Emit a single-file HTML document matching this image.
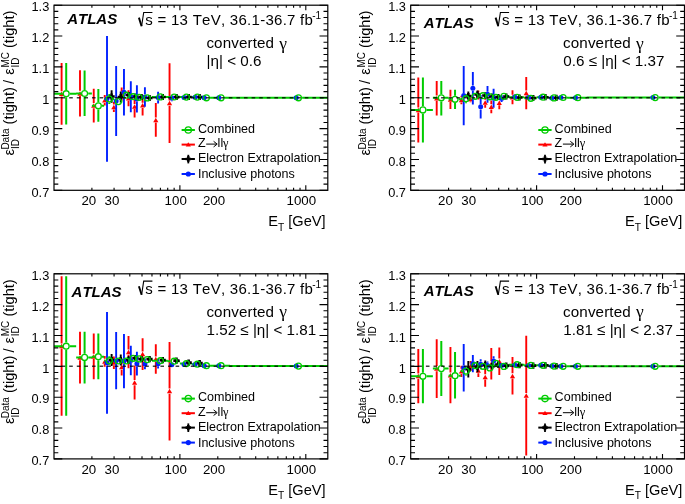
<!DOCTYPE html>
<html><head><meta charset="utf-8"><style>
html,body{margin:0;padding:0;background:#fff;overflow:hidden}
svg{display:block;will-change:transform;filter:blur(0.35px)}
text{font-family:"Liberation Sans",sans-serif;fill:#000;font-kerning:none}
</style></head><body>
<svg width="685" height="504" viewBox="0 0 685 504">
<rect width="685" height="504" fill="#fff"/>
<g transform="translate(0,0)">
<path d="M61.60,62.90V91.25 M61.60,96.45V124.80 M80.00,70.30V90.85 M80.00,96.05V116.60 M93.74,88.70V103.00 M93.74,108.20V122.50 M104.71,95.10V97.70 M104.71,102.90V105.50 M113.85,102.10V104.40 M113.85,109.60V111.90 M121.67,87.60V91.60 M121.67,96.80V100.80 M128.51,90.20V95.65 M128.51,100.85V106.30 M134.60,95.50V103.90 M134.60,109.10V117.40 M142.61,95.20V102.70 M142.61,107.90V115.40 M155.80,103.10V117.40 M155.80,122.60V136.80 M169.54,63.30V100.50 M169.54,105.70V142.90" stroke="#ff0000" stroke-width="1.9" fill="none"/>
<path d="M59.00,96.10L61.60,91.60L64.20,96.10Z" fill="#ff0000"/>
<path d="M77.40,95.70L80.00,91.20L82.60,95.70Z" fill="#ff0000"/>
<path d="M91.14,107.85L93.74,103.35L96.34,107.85Z" fill="#ff0000"/>
<path d="M102.11,102.55L104.71,98.05L107.31,102.55Z" fill="#ff0000"/>
<path d="M111.25,109.25L113.85,104.75L116.45,109.25Z" fill="#ff0000"/>
<path d="M119.07,96.45L121.67,91.95L124.27,96.45Z" fill="#ff0000"/>
<path d="M125.91,100.50L128.51,96.00L131.11,100.50Z" fill="#ff0000"/>
<path d="M132.00,108.75L134.60,104.25L137.20,108.75Z" fill="#ff0000"/>
<path d="M140.01,107.55L142.61,103.05L145.21,107.55Z" fill="#ff0000"/>
<path d="M153.20,122.25L155.80,117.75L158.40,122.25Z" fill="#ff0000"/>
<path d="M166.94,105.35L169.54,100.85L172.14,105.35Z" fill="#ff0000"/>
<path d="M54.00,93.70H62.60 M69.80,93.70H76.17 M66.20,62.90V90.10 M66.20,97.30V124.50 M76.17,93.50H81.00 M88.20,93.50H91.90 M84.60,70.60V89.90 M84.60,97.10V116.10 M91.90,105.80H94.74 M101.94,105.80H104.10 M98.34,88.90V102.20 M98.34,109.40V121.70 M104.10,99.00H105.71 M112.91,99.00H114.07 M109.31,94.00V95.40 M109.31,102.60V104.00 M114.07,101.60H114.85 M122.05,101.60H122.50 M122.50,95.20H122.67 M142.00,97.90H143.61 M150.81,97.90H151.97 M151.97,96.90H156.80 M164.00,96.90H167.70 M167.70,97.00H170.54 M177.74,97.00H179.90 M179.90,97.10H182.74 M189.94,97.10H192.10 M192.10,97.10H193.71 M200.91,97.10H202.07 M202.07,97.80H202.85 M210.05,97.80H210.50 M210.50,97.80H217.51 M224.71,97.80H230.00 M230.00,97.80H294.90 M302.10,97.80H327.97" stroke="#00cc00" stroke-width="2" fill="none"/>
<path d="M111.61,90.30V94.30 M111.61,98.70V102.80 M120.75,91.40V94.80 M120.75,99.20V102.50 M128.57,92.00V92.80 M128.57,97.20V98.00 M135.41,94.00V94.30 M135.41,98.70V99.00" stroke="#000000" stroke-width="1.9" fill="none"/>
<path d="M110.31,93.40h2.6v1.8h1.8v2.6h-1.8v1.8h-2.6v-1.8h-1.8v-2.6h1.8z" fill="#000"/>
<path d="M119.45,93.90h2.6v1.8h1.8v2.6h-1.8v1.8h-2.6v-1.8h-1.8v-2.6h1.8z" fill="#000"/>
<path d="M127.27,91.90h2.6v1.8h1.8v2.6h-1.8v1.8h-2.6v-1.8h-1.8v-2.6h1.8z" fill="#000"/>
<path d="M134.11,93.40h2.6v1.8h1.8v2.6h-1.8v1.8h-2.6v-1.8h-1.8v-2.6h1.8z" fill="#000"/>
<path d="M140.20,93.90h2.6v1.8h1.8v2.6h-1.8v1.8h-2.6v-1.8h-1.8v-2.6h1.8z" fill="#000"/>
<path d="M148.21,94.90h2.6v1.8h1.8v2.6h-1.8v1.8h-2.6v-1.8h-1.8v-2.6h1.8z" fill="#000"/>
<path d="M161.40,93.90h2.6v1.8h1.8v2.6h-1.8v1.8h-2.6v-1.8h-1.8v-2.6h1.8z" fill="#000"/>
<path d="M175.14,93.90h2.6v1.8h1.8v2.6h-1.8v1.8h-2.6v-1.8h-1.8v-2.6h1.8z" fill="#000"/>
<path d="M187.34,93.90h2.6v1.8h1.8v2.6h-1.8v1.8h-2.6v-1.8h-1.8v-2.6h1.8z" fill="#000"/>
<path d="M198.31,93.90h2.6v1.8h1.8v2.6h-1.8v1.8h-2.6v-1.8h-1.8v-2.6h1.8z" fill="#000"/>
<path d="M107.01,35.90V96.20 M107.01,101.40V161.70 M116.15,65.90V98.30 M116.15,103.50V135.90 M123.97,69.10V89.65 M123.97,94.85V115.40 M130.81,81.30V94.15 M130.81,99.35V112.20 M136.90,85.20V96.30 M136.90,101.50V112.60 M144.91,87.20V94.35 M144.91,99.55V106.70 M158.10,91.70V95.00 M158.10,100.20V103.50 M171.84,94.80V95.40 M171.84,100.60V101.30" stroke="#0020ff" stroke-width="1.9" fill="none"/>
<circle cx="107.01" cy="98.80" r="2.5" fill="#0020ff"/>
<circle cx="116.15" cy="100.90" r="2.5" fill="#0020ff"/>
<circle cx="123.97" cy="92.25" r="2.5" fill="#0020ff"/>
<circle cx="130.81" cy="96.75" r="2.5" fill="#0020ff"/>
<circle cx="136.90" cy="98.90" r="2.5" fill="#0020ff"/>
<circle cx="144.91" cy="96.95" r="2.5" fill="#0020ff"/>
<circle cx="158.10" cy="97.60" r="2.5" fill="#0020ff"/>
<circle cx="171.84" cy="98.00" r="2.5" fill="#0020ff"/>
<circle cx="184.04" cy="97.50" r="2.5" fill="#0020ff"/>
<circle cx="195.01" cy="97.30" r="2.5" fill="#0020ff"/>
<circle cx="204.15" cy="97.80" r="2.5" fill="#0020ff"/>
<circle cx="218.81" cy="97.80" r="2.5" fill="#0020ff"/>
<circle cx="296.20" cy="97.80" r="2.5" fill="#0020ff"/>
<circle cx="66.20" cy="93.70" r="2.95" fill="none" stroke="#00cc00" stroke-width="1.3"/>
<circle cx="84.60" cy="93.50" r="2.95" fill="none" stroke="#00cc00" stroke-width="1.3"/>
<circle cx="98.34" cy="105.80" r="2.95" fill="none" stroke="#00cc00" stroke-width="1.3"/>
<circle cx="109.31" cy="99.00" r="2.95" fill="none" stroke="#00cc00" stroke-width="1.3"/>
<circle cx="118.45" cy="101.60" r="2.95" fill="none" stroke="#00cc00" stroke-width="1.3"/>
<circle cx="126.27" cy="95.20" r="2.95" fill="none" stroke="#00cc00" stroke-width="1.3"/>
<circle cx="133.11" cy="96.70" r="2.95" fill="none" stroke="#00cc00" stroke-width="1.3"/>
<circle cx="139.20" cy="97.30" r="2.95" fill="none" stroke="#00cc00" stroke-width="1.3"/>
<circle cx="147.21" cy="97.90" r="2.95" fill="none" stroke="#00cc00" stroke-width="1.3"/>
<circle cx="160.40" cy="96.90" r="2.95" fill="none" stroke="#00cc00" stroke-width="1.3"/>
<circle cx="174.14" cy="97.00" r="2.95" fill="none" stroke="#00cc00" stroke-width="1.3"/>
<circle cx="186.34" cy="97.10" r="2.95" fill="none" stroke="#00cc00" stroke-width="1.3"/>
<circle cx="197.31" cy="97.10" r="2.95" fill="none" stroke="#00cc00" stroke-width="1.3"/>
<circle cx="206.45" cy="97.80" r="2.95" fill="none" stroke="#00cc00" stroke-width="1.3"/>
<circle cx="221.11" cy="97.80" r="2.95" fill="none" stroke="#00cc00" stroke-width="1.3"/>
<circle cx="298.50" cy="97.80" r="2.95" fill="none" stroke="#00cc00" stroke-width="1.3"/>
<path d="M54.00,97.75H327.80" stroke="#000" stroke-opacity="0.75" stroke-width="1.5" stroke-dasharray="3.6,4"/>
<path d="M54.00,190.30h8.3 M327.80,190.30h-8.3 M54.00,184.13h4.3 M327.80,184.13h-4.3 M54.00,177.96h4.3 M327.80,177.96h-4.3 M54.00,171.79h4.3 M327.80,171.79h-4.3 M54.00,165.62h4.3 M327.80,165.62h-4.3 M54.00,159.45h8.3 M327.80,159.45h-8.3 M54.00,153.28h4.3 M327.80,153.28h-4.3 M54.00,147.11h4.3 M327.80,147.11h-4.3 M54.00,140.94h4.3 M327.80,140.94h-4.3 M54.00,134.77h4.3 M327.80,134.77h-4.3 M54.00,128.60h8.3 M327.80,128.60h-8.3 M54.00,122.43h4.3 M327.80,122.43h-4.3 M54.00,116.26h4.3 M327.80,116.26h-4.3 M54.00,110.09h4.3 M327.80,110.09h-4.3 M54.00,103.92h4.3 M327.80,103.92h-4.3 M54.00,97.75h8.3 M327.80,97.75h-8.3 M54.00,91.58h4.3 M327.80,91.58h-4.3 M54.00,85.41h4.3 M327.80,85.41h-4.3 M54.00,79.24h4.3 M327.80,79.24h-4.3 M54.00,73.07h4.3 M327.80,73.07h-4.3 M54.00,66.90h8.3 M327.80,66.90h-8.3 M54.00,60.73h4.3 M327.80,60.73h-4.3 M54.00,54.56h4.3 M327.80,54.56h-4.3 M54.00,48.39h4.3 M327.80,48.39h-4.3 M54.00,42.22h4.3 M327.80,42.22h-4.3 M54.00,36.05h8.3 M327.80,36.05h-8.3 M54.00,29.88h4.3 M327.80,29.88h-4.3 M54.00,23.71h4.3 M327.80,23.71h-4.3 M54.00,17.54h4.3 M327.80,17.54h-4.3 M54.00,11.37h4.3 M327.80,11.37h-4.3 M54.00,5.20h8.3 M327.80,5.20h-8.3 M91.90,190.30v-2.6 M91.90,5.20v2.6 M114.07,190.30v-2.6 M114.07,5.20v2.6 M129.80,190.30v-2.6 M129.80,5.20v2.6 M142.00,190.30v-2.6 M142.00,5.20v2.6 M151.97,190.30v-2.6 M151.97,5.20v2.6 M160.40,190.30v-2.6 M160.40,5.20v2.6 M167.70,190.30v-2.6 M167.70,5.20v2.6 M174.14,190.30v-2.6 M174.14,5.20v2.6 M179.90,190.30v-5 M179.90,5.20v5 M217.80,190.30v-2.6 M217.80,5.20v2.6 M239.97,190.30v-2.6 M239.97,5.20v2.6 M255.70,190.30v-2.6 M255.70,5.20v2.6 M267.90,190.30v-2.6 M267.90,5.20v2.6 M277.87,190.30v-2.6 M277.87,5.20v2.6 M286.30,190.30v-2.6 M286.30,5.20v2.6 M293.60,190.30v-2.6 M293.60,5.20v2.6 M300.04,190.30v-2.6 M300.04,5.20v2.6 M305.80,190.30v-5 M305.80,5.20v5" stroke="#000" stroke-width="1.1" fill="none"/>
<rect x="54.0" y="5.2" width="273.80" height="185.10" stroke="#000" stroke-width="1.2" fill="none"/>
<text x="49.3" y="196.50" text-anchor="end" font-size="12.8">0.7</text>
<text x="49.3" y="165.65" text-anchor="end" font-size="12.8">0.8</text>
<text x="49.3" y="134.80" text-anchor="end" font-size="12.8">0.9</text>
<text x="49.3" y="103.95" text-anchor="end" font-size="12.8">1</text>
<text x="49.3" y="73.10" text-anchor="end" font-size="12.8">1.1</text>
<text x="49.3" y="42.25" text-anchor="end" font-size="12.8">1.2</text>
<text x="49.3" y="11.40" text-anchor="end" font-size="12.8">1.3</text>
<text x="88.8" y="205" text-anchor="middle" font-size="13.3">20</text>
<text x="112" y="205" text-anchor="middle" font-size="13.3">30</text>
<text x="175.7" y="205" text-anchor="middle" font-size="13.3">100</text>
<text x="214" y="205" text-anchor="middle" font-size="13.3">200</text>
<text x="301.3" y="205" text-anchor="middle" font-size="13.3">1000</text>
<text x="268.3" y="226.4" font-size="14.6">E<tspan font-size="10.2" dy="4.3">T</tspan><tspan dy="-4.3"> [GeV]</tspan></text>
<g transform="translate(13.6,160) rotate(-90)"><text x="4.6" y="0" font-size="14.8">ε</text><text x="10.4" y="-4.7" font-size="10">Data</text><text x="11.0" y="5.2" font-size="10">ID</text><text x="35.6" y="0" font-size="14.6">(tight)</text><text x="76.0" y="0" font-size="14.6">/</text><text x="85.2" y="0" font-size="14.8">ε</text><text x="92.4" y="-5.0" font-size="10">MC</text><text x="92.4" y="5.2" font-size="10">ID</text><text x="112.0" y="0" font-size="14.6">(tight)</text></g>
<text x="67.2" y="24.2" font-size="15" font-weight="bold" font-style="italic">ATLAS</text>
<path d="M138.9,17.6 L141.6,26.2" stroke="#000" stroke-width="1.9" fill="none"/>
<path d="M141.6,26.2 L143.7,12.5 L152.4,12.5" stroke="#000" stroke-width="1.1" fill="none"/>
<text x="145.3" y="25.4" font-size="15" textLength="167.6" lengthAdjust="spacing">s = 13 TeV, 36.1-36.7 fb</text>
<text x="312.2" y="19.3" font-size="10">-1</text>
<text x="206.4" y="48.3" font-size="15.2" textLength="67.6" lengthAdjust="spacing">converted</text>
<text x="279.2" y="48.6" font-size="17.5" style="font-family:'Liberation Serif',serif">γ</text>
<text x="206.6" y="66.0" font-size="15.2">|η| &lt; 0.6</text>
<path d="M181.6,130.0H194.9" stroke="#00cc00" stroke-width="2"/>
<text x="197.9" y="132.9" font-size="12.55">Combined</text>
<path d="M181.6,144.6H194.9" stroke="#ff0000" stroke-width="2"/>
<path d="M181.6,159.0H194.9" stroke="#000000" stroke-width="2"/>
<text x="197.9" y="162.0" font-size="12.55">Electron Extrapolation</text>
<path d="M181.6,174.0H194.9" stroke="#0020ff" stroke-width="2"/>
<text x="197.9" y="178.0" font-size="12.55">Inclusive photons</text>
<text x="197.9" y="147.3" font-size="12.55">Z</text>
<path d="M206.2,144.1H216.2" stroke="#000" stroke-width="1"/>
<path d="M213.6,141.3 L217.2,144.1 L213.6,146.9" stroke="#000" stroke-width="1" fill="none"/>
<text x="217.6" y="147.3" font-size="12.55">ll</text>
<text x="223.0" y="147.2" font-size="12.4" font-family="Liberation Serif" style="font-family:'Liberation Serif',serif">γ</text>
<circle cx="188.3" cy="130" r="3.15" fill="none" stroke="#00cc00" stroke-width="1.3"/>
<path d="M185.70000000000002,146.4 L188.3,142.2 L190.9,146.4Z" fill="#ff0000"/>
<path d="M188.3,154.8V163.4" stroke="#000" stroke-width="1.8"/>
<path d="M187.0,156.3h2.6v1.4h1.4v2.6h-1.4v1.4h-2.6v-1.4h-1.4v-2.6h1.4z" fill="#000"/>
<circle cx="188.3" cy="174" r="2.6" fill="#0020ff"/>
</g>
<g transform="translate(356.7,0)">
<path d="M61.60,77.40V107.40 M61.60,112.60V142.60 M80.00,80.90V95.60 M80.00,100.80V115.40 M93.74,89.80V96.80 M93.74,102.00V109.00 M104.71,95.70V97.40 M104.71,102.60V104.30 M113.85,95.70V96.40 M113.85,101.60V102.30 M121.67,90.40V92.40 M121.67,97.60V99.60 M128.51,97.00V99.80 M128.51,105.00V107.70 M134.60,100.40V104.20 M134.60,109.40V113.20 M142.61,96.20V100.10 M142.61,105.30V109.20 M155.80,90.30V94.70 M155.80,99.90V104.20 M169.54,76.90V90.45 M169.54,95.65V109.20" stroke="#ff0000" stroke-width="1.9" fill="none"/>
<path d="M59.00,112.25L61.60,107.75L64.20,112.25Z" fill="#ff0000"/>
<path d="M77.40,100.45L80.00,95.95L82.60,100.45Z" fill="#ff0000"/>
<path d="M91.14,101.65L93.74,97.15L96.34,101.65Z" fill="#ff0000"/>
<path d="M102.11,102.25L104.71,97.75L107.31,102.25Z" fill="#ff0000"/>
<path d="M111.25,101.25L113.85,96.75L116.45,101.25Z" fill="#ff0000"/>
<path d="M119.07,97.25L121.67,92.75L124.27,97.25Z" fill="#ff0000"/>
<path d="M125.91,104.65L128.51,100.15L131.11,104.65Z" fill="#ff0000"/>
<path d="M132.00,109.05L134.60,104.55L137.20,109.05Z" fill="#ff0000"/>
<path d="M140.01,104.95L142.61,100.45L145.21,104.95Z" fill="#ff0000"/>
<path d="M153.20,99.55L155.80,95.05L158.40,99.55Z" fill="#ff0000"/>
<path d="M166.94,95.30L169.54,90.80L172.14,95.30Z" fill="#ff0000"/>
<path d="M54.00,109.90H62.60 M69.80,109.90H76.17 M66.20,77.40V106.30 M66.20,113.50V142.60 M76.17,97.80H81.00 M88.20,97.80H91.90 M84.60,80.90V94.20 M84.60,101.40V115.40 M91.90,99.30H94.74 M101.94,99.30H104.10 M98.34,89.80V95.70 M98.34,102.90V109.00 M104.10,98.70H105.71 M112.91,98.70H114.07 M109.31,94.20V95.10 M109.31,102.30V103.20 M114.07,96.30H114.85 M122.05,96.30H122.50 M122.50,95.70H122.67 M142.00,96.30H143.61 M150.81,96.30H151.97 M151.97,97.30H156.80 M164.00,97.30H167.70 M167.70,98.30H170.54 M177.74,98.30H179.90 M179.90,97.20H182.74 M189.94,97.20H192.10 M192.10,97.90H193.71 M200.91,97.90H202.07 M202.07,97.50H202.85 M210.05,97.50H210.50 M210.50,97.70H217.51 M224.71,97.70H230.00 M230.00,97.60H294.90 M302.10,97.60H327.97" stroke="#00cc00" stroke-width="2" fill="none"/>
<path d="M111.61,91.50V93.80 M111.61,98.20V100.50 M120.75,90.50V92.30 M120.75,96.70V98.50 M128.57,92.50V93.30 M128.57,97.70V98.50 M135.41,94.00V94.30 M135.41,98.70V99.00" stroke="#000000" stroke-width="1.9" fill="none"/>
<path d="M110.31,92.90h2.6v1.8h1.8v2.6h-1.8v1.8h-2.6v-1.8h-1.8v-2.6h1.8z" fill="#000"/>
<path d="M119.45,91.40h2.6v1.8h1.8v2.6h-1.8v1.8h-2.6v-1.8h-1.8v-2.6h1.8z" fill="#000"/>
<path d="M127.27,92.40h2.6v1.8h1.8v2.6h-1.8v1.8h-2.6v-1.8h-1.8v-2.6h1.8z" fill="#000"/>
<path d="M134.11,93.40h2.6v1.8h1.8v2.6h-1.8v1.8h-2.6v-1.8h-1.8v-2.6h1.8z" fill="#000"/>
<path d="M140.20,93.90h2.6v1.8h1.8v2.6h-1.8v1.8h-2.6v-1.8h-1.8v-2.6h1.8z" fill="#000"/>
<path d="M148.21,93.40h2.6v1.8h1.8v2.6h-1.8v1.8h-2.6v-1.8h-1.8v-2.6h1.8z" fill="#000"/>
<path d="M161.40,94.40h2.6v1.8h1.8v2.6h-1.8v1.8h-2.6v-1.8h-1.8v-2.6h1.8z" fill="#000"/>
<path d="M175.14,94.90h2.6v1.8h1.8v2.6h-1.8v1.8h-2.6v-1.8h-1.8v-2.6h1.8z" fill="#000"/>
<path d="M187.34,94.10h2.6v1.8h1.8v2.6h-1.8v1.8h-2.6v-1.8h-1.8v-2.6h1.8z" fill="#000"/>
<path d="M198.31,94.80h2.6v1.8h1.8v2.6h-1.8v1.8h-2.6v-1.8h-1.8v-2.6h1.8z" fill="#000"/>
<path d="M107.01,66.00V93.00 M107.01,98.20V125.20 M116.15,71.90V85.60 M116.15,90.80V104.60 M123.97,95.10V104.20 M123.97,109.40V118.50 M130.81,85.90V91.70 M130.81,96.90V102.70 M136.90,88.80V95.60 M136.90,100.80V107.70 M144.91,95.00V95.90 M144.91,101.10V102.00 M158.10,94.00V94.40 M158.10,99.60V100.00" stroke="#0020ff" stroke-width="1.9" fill="none"/>
<circle cx="107.01" cy="95.60" r="2.5" fill="#0020ff"/>
<circle cx="116.15" cy="88.20" r="2.5" fill="#0020ff"/>
<circle cx="123.97" cy="106.80" r="2.5" fill="#0020ff"/>
<circle cx="130.81" cy="94.30" r="2.5" fill="#0020ff"/>
<circle cx="136.90" cy="98.20" r="2.5" fill="#0020ff"/>
<circle cx="144.91" cy="98.50" r="2.5" fill="#0020ff"/>
<circle cx="158.10" cy="97.00" r="2.5" fill="#0020ff"/>
<circle cx="171.84" cy="97.50" r="2.5" fill="#0020ff"/>
<circle cx="184.04" cy="97.20" r="2.5" fill="#0020ff"/>
<circle cx="195.01" cy="97.90" r="2.5" fill="#0020ff"/>
<circle cx="204.15" cy="97.50" r="2.5" fill="#0020ff"/>
<circle cx="218.81" cy="97.70" r="2.5" fill="#0020ff"/>
<circle cx="296.20" cy="97.60" r="2.5" fill="#0020ff"/>
<circle cx="66.20" cy="109.90" r="2.95" fill="none" stroke="#00cc00" stroke-width="1.3"/>
<circle cx="84.60" cy="97.80" r="2.95" fill="none" stroke="#00cc00" stroke-width="1.3"/>
<circle cx="98.34" cy="99.30" r="2.95" fill="none" stroke="#00cc00" stroke-width="1.3"/>
<circle cx="109.31" cy="98.70" r="2.95" fill="none" stroke="#00cc00" stroke-width="1.3"/>
<circle cx="118.45" cy="96.30" r="2.95" fill="none" stroke="#00cc00" stroke-width="1.3"/>
<circle cx="126.27" cy="95.70" r="2.95" fill="none" stroke="#00cc00" stroke-width="1.3"/>
<circle cx="133.11" cy="96.80" r="2.95" fill="none" stroke="#00cc00" stroke-width="1.3"/>
<circle cx="139.20" cy="97.30" r="2.95" fill="none" stroke="#00cc00" stroke-width="1.3"/>
<circle cx="147.21" cy="96.30" r="2.95" fill="none" stroke="#00cc00" stroke-width="1.3"/>
<circle cx="160.40" cy="97.30" r="2.95" fill="none" stroke="#00cc00" stroke-width="1.3"/>
<circle cx="174.14" cy="98.30" r="2.95" fill="none" stroke="#00cc00" stroke-width="1.3"/>
<circle cx="186.34" cy="97.20" r="2.95" fill="none" stroke="#00cc00" stroke-width="1.3"/>
<circle cx="197.31" cy="97.90" r="2.95" fill="none" stroke="#00cc00" stroke-width="1.3"/>
<circle cx="206.45" cy="97.50" r="2.95" fill="none" stroke="#00cc00" stroke-width="1.3"/>
<circle cx="221.11" cy="97.70" r="2.95" fill="none" stroke="#00cc00" stroke-width="1.3"/>
<circle cx="298.50" cy="97.60" r="2.95" fill="none" stroke="#00cc00" stroke-width="1.3"/>
<path d="M54.00,97.75H327.80" stroke="#000" stroke-opacity="0.75" stroke-width="1.5" stroke-dasharray="3.6,4"/>
<path d="M54.00,190.30h8.3 M327.80,190.30h-8.3 M54.00,184.13h4.3 M327.80,184.13h-4.3 M54.00,177.96h4.3 M327.80,177.96h-4.3 M54.00,171.79h4.3 M327.80,171.79h-4.3 M54.00,165.62h4.3 M327.80,165.62h-4.3 M54.00,159.45h8.3 M327.80,159.45h-8.3 M54.00,153.28h4.3 M327.80,153.28h-4.3 M54.00,147.11h4.3 M327.80,147.11h-4.3 M54.00,140.94h4.3 M327.80,140.94h-4.3 M54.00,134.77h4.3 M327.80,134.77h-4.3 M54.00,128.60h8.3 M327.80,128.60h-8.3 M54.00,122.43h4.3 M327.80,122.43h-4.3 M54.00,116.26h4.3 M327.80,116.26h-4.3 M54.00,110.09h4.3 M327.80,110.09h-4.3 M54.00,103.92h4.3 M327.80,103.92h-4.3 M54.00,97.75h8.3 M327.80,97.75h-8.3 M54.00,91.58h4.3 M327.80,91.58h-4.3 M54.00,85.41h4.3 M327.80,85.41h-4.3 M54.00,79.24h4.3 M327.80,79.24h-4.3 M54.00,73.07h4.3 M327.80,73.07h-4.3 M54.00,66.90h8.3 M327.80,66.90h-8.3 M54.00,60.73h4.3 M327.80,60.73h-4.3 M54.00,54.56h4.3 M327.80,54.56h-4.3 M54.00,48.39h4.3 M327.80,48.39h-4.3 M54.00,42.22h4.3 M327.80,42.22h-4.3 M54.00,36.05h8.3 M327.80,36.05h-8.3 M54.00,29.88h4.3 M327.80,29.88h-4.3 M54.00,23.71h4.3 M327.80,23.71h-4.3 M54.00,17.54h4.3 M327.80,17.54h-4.3 M54.00,11.37h4.3 M327.80,11.37h-4.3 M54.00,5.20h8.3 M327.80,5.20h-8.3 M91.90,190.30v-2.6 M91.90,5.20v2.6 M114.07,190.30v-2.6 M114.07,5.20v2.6 M129.80,190.30v-2.6 M129.80,5.20v2.6 M142.00,190.30v-2.6 M142.00,5.20v2.6 M151.97,190.30v-2.6 M151.97,5.20v2.6 M160.40,190.30v-2.6 M160.40,5.20v2.6 M167.70,190.30v-2.6 M167.70,5.20v2.6 M174.14,190.30v-2.6 M174.14,5.20v2.6 M179.90,190.30v-5 M179.90,5.20v5 M217.80,190.30v-2.6 M217.80,5.20v2.6 M239.97,190.30v-2.6 M239.97,5.20v2.6 M255.70,190.30v-2.6 M255.70,5.20v2.6 M267.90,190.30v-2.6 M267.90,5.20v2.6 M277.87,190.30v-2.6 M277.87,5.20v2.6 M286.30,190.30v-2.6 M286.30,5.20v2.6 M293.60,190.30v-2.6 M293.60,5.20v2.6 M300.04,190.30v-2.6 M300.04,5.20v2.6 M305.80,190.30v-5 M305.80,5.20v5" stroke="#000" stroke-width="1.1" fill="none"/>
<rect x="54.0" y="5.2" width="273.80" height="185.10" stroke="#000" stroke-width="1.2" fill="none"/>
<text x="49.3" y="196.50" text-anchor="end" font-size="12.8">0.7</text>
<text x="49.3" y="165.65" text-anchor="end" font-size="12.8">0.8</text>
<text x="49.3" y="134.80" text-anchor="end" font-size="12.8">0.9</text>
<text x="49.3" y="103.95" text-anchor="end" font-size="12.8">1</text>
<text x="49.3" y="73.10" text-anchor="end" font-size="12.8">1.1</text>
<text x="49.3" y="42.25" text-anchor="end" font-size="12.8">1.2</text>
<text x="49.3" y="11.40" text-anchor="end" font-size="12.8">1.3</text>
<text x="88.8" y="205" text-anchor="middle" font-size="13.3">20</text>
<text x="112" y="205" text-anchor="middle" font-size="13.3">30</text>
<text x="175.7" y="205" text-anchor="middle" font-size="13.3">100</text>
<text x="214" y="205" text-anchor="middle" font-size="13.3">200</text>
<text x="301.3" y="205" text-anchor="middle" font-size="13.3">1000</text>
<text x="268.3" y="226.4" font-size="14.6">E<tspan font-size="10.2" dy="4.3">T</tspan><tspan dy="-4.3"> [GeV]</tspan></text>
<g transform="translate(13.6,160) rotate(-90)"><text x="4.6" y="0" font-size="14.8">ε</text><text x="10.4" y="-4.7" font-size="10">Data</text><text x="11.0" y="5.2" font-size="10">ID</text><text x="35.6" y="0" font-size="14.6">(tight)</text><text x="76.0" y="0" font-size="14.6">/</text><text x="85.2" y="0" font-size="14.8">ε</text><text x="92.4" y="-5.0" font-size="10">MC</text><text x="92.4" y="5.2" font-size="10">ID</text><text x="112.0" y="0" font-size="14.6">(tight)</text></g>
<text x="67.0" y="28.0" font-size="15" font-weight="bold" font-style="italic">ATLAS</text>
<path d="M138.9,17.6 L141.6,26.2" stroke="#000" stroke-width="1.9" fill="none"/>
<path d="M141.6,26.2 L143.7,12.5 L152.4,12.5" stroke="#000" stroke-width="1.1" fill="none"/>
<text x="145.3" y="25.4" font-size="15" textLength="167.6" lengthAdjust="spacing">s = 13 TeV, 36.1-36.7 fb</text>
<text x="312.2" y="19.3" font-size="10">-1</text>
<text x="206.4" y="48.3" font-size="15.2" textLength="67.6" lengthAdjust="spacing">converted</text>
<text x="279.2" y="48.6" font-size="17.5" style="font-family:'Liberation Serif',serif">γ</text>
<text x="206.6" y="66.0" font-size="15.2">0.6 ≤ |η| &lt; 1.37</text>
<path d="M181.6,130.0H194.9" stroke="#00cc00" stroke-width="2"/>
<text x="197.9" y="132.9" font-size="12.55">Combined</text>
<path d="M181.6,144.6H194.9" stroke="#ff0000" stroke-width="2"/>
<path d="M181.6,159.0H194.9" stroke="#000000" stroke-width="2"/>
<text x="197.9" y="162.0" font-size="12.55">Electron Extrapolation</text>
<path d="M181.6,174.0H194.9" stroke="#0020ff" stroke-width="2"/>
<text x="197.9" y="178.0" font-size="12.55">Inclusive photons</text>
<text x="197.9" y="147.3" font-size="12.55">Z</text>
<path d="M206.2,144.1H216.2" stroke="#000" stroke-width="1"/>
<path d="M213.6,141.3 L217.2,144.1 L213.6,146.9" stroke="#000" stroke-width="1" fill="none"/>
<text x="217.6" y="147.3" font-size="12.55">ll</text>
<text x="223.0" y="147.2" font-size="12.4" font-family="Liberation Serif" style="font-family:'Liberation Serif',serif">γ</text>
<circle cx="188.3" cy="130" r="3.15" fill="none" stroke="#00cc00" stroke-width="1.3"/>
<path d="M185.70000000000002,146.4 L188.3,142.2 L190.9,146.4Z" fill="#ff0000"/>
<path d="M188.3,154.8V163.4" stroke="#000" stroke-width="1.8"/>
<path d="M187.0,156.3h2.6v1.4h1.4v2.6h-1.4v1.4h-2.6v-1.4h-1.4v-2.6h1.4z" fill="#000"/>
<circle cx="188.3" cy="174" r="2.6" fill="#0020ff"/>
</g>
<g transform="translate(0,268.6)">
<path d="M61.60,7.60V74.80 M61.60,80.00V147.20 M80.00,63.10V86.40 M80.00,91.60V114.90 M93.74,64.90V85.20 M93.74,90.40V110.70 M104.71,87.40V90.20 M104.71,95.40V98.10 M113.85,87.90V91.40 M113.85,96.60V100.40 M121.67,90.90V95.90 M121.67,101.10V107.00 M128.51,67.40V80.90 M128.51,86.10V99.60 M134.60,97.00V111.40 M134.60,116.60V131.00 M142.61,69.70V82.90 M142.61,88.10V101.30 M155.80,75.70V87.90 M155.80,93.10V105.20 M169.54,73.30V119.90 M169.54,125.10V171.80" stroke="#ff0000" stroke-width="1.9" fill="none"/>
<path d="M59.00,79.65L61.60,75.15L64.20,79.65Z" fill="#ff0000"/>
<path d="M77.40,91.25L80.00,86.75L82.60,91.25Z" fill="#ff0000"/>
<path d="M91.14,90.05L93.74,85.55L96.34,90.05Z" fill="#ff0000"/>
<path d="M102.11,95.05L104.71,90.55L107.31,95.05Z" fill="#ff0000"/>
<path d="M111.25,96.25L113.85,91.75L116.45,96.25Z" fill="#ff0000"/>
<path d="M119.07,100.75L121.67,96.25L124.27,100.75Z" fill="#ff0000"/>
<path d="M125.91,85.75L128.51,81.25L131.11,85.75Z" fill="#ff0000"/>
<path d="M132.00,116.25L134.60,111.75L137.20,116.25Z" fill="#ff0000"/>
<path d="M140.01,87.75L142.61,83.25L145.21,87.75Z" fill="#ff0000"/>
<path d="M153.20,92.75L155.80,88.25L158.40,92.75Z" fill="#ff0000"/>
<path d="M166.94,124.75L169.54,120.25L172.14,124.75Z" fill="#ff0000"/>
<path d="M54.00,77.60H62.60 M69.80,77.60H76.17 M66.20,7.60V74.00 M66.20,81.20V147.20 M76.17,88.80H81.00 M88.20,88.80H91.90 M84.60,63.10V85.20 M84.60,92.40V114.90 M91.90,88.10H94.74 M101.94,88.10H104.10 M98.34,64.90V84.50 M98.34,91.70V110.70 M104.10,92.10H105.71 M112.91,92.10H114.07 M109.31,87.60V88.50 M109.31,95.70V96.60 M114.07,92.40H114.85 M122.05,92.40H122.50 M122.50,92.40H122.67 M142.00,91.00H143.61 M150.81,91.00H151.97 M151.97,92.10H156.80 M164.00,92.10H167.70 M167.70,92.60H170.54 M177.74,92.60H179.90 M179.90,95.00H182.74 M189.94,95.00H192.10 M192.10,95.60H193.71 M200.91,95.60H202.07 M202.07,97.10H202.85 M210.05,97.10H210.50 M210.50,97.10H217.51 M224.71,97.10H230.00 M230.00,97.50H294.90 M302.10,97.50H327.97" stroke="#00cc00" stroke-width="2" fill="none"/>
<path d="M111.61,85.50V89.30 M111.61,93.70V97.50 M120.75,86.00V89.30 M120.75,93.70V97.00 M128.57,87.50V89.30 M128.57,93.70V95.50 M135.41,86.50V87.30 M135.41,91.70V92.50 M141.50,88.00V88.30 M141.50,92.70V93.00" stroke="#000000" stroke-width="1.9" fill="none"/>
<path d="M110.31,88.40h2.6v1.8h1.8v2.6h-1.8v1.8h-2.6v-1.8h-1.8v-2.6h1.8z" fill="#000"/>
<path d="M119.45,88.40h2.6v1.8h1.8v2.6h-1.8v1.8h-2.6v-1.8h-1.8v-2.6h1.8z" fill="#000"/>
<path d="M127.27,88.40h2.6v1.8h1.8v2.6h-1.8v1.8h-2.6v-1.8h-1.8v-2.6h1.8z" fill="#000"/>
<path d="M134.11,86.40h2.6v1.8h1.8v2.6h-1.8v1.8h-2.6v-1.8h-1.8v-2.6h1.8z" fill="#000"/>
<path d="M140.20,87.40h2.6v1.8h1.8v2.6h-1.8v1.8h-2.6v-1.8h-1.8v-2.6h1.8z" fill="#000"/>
<path d="M148.21,87.40h2.6v1.8h1.8v2.6h-1.8v1.8h-2.6v-1.8h-1.8v-2.6h1.8z" fill="#000"/>
<path d="M161.40,88.40h2.6v1.8h1.8v2.6h-1.8v1.8h-2.6v-1.8h-1.8v-2.6h1.8z" fill="#000"/>
<path d="M175.14,88.90h2.6v1.8h1.8v2.6h-1.8v1.8h-2.6v-1.8h-1.8v-2.6h1.8z" fill="#000"/>
<path d="M187.34,90.90h2.6v1.8h1.8v2.6h-1.8v1.8h-2.6v-1.8h-1.8v-2.6h1.8z" fill="#000"/>
<path d="M198.31,91.40h2.6v1.8h1.8v2.6h-1.8v1.8h-2.6v-1.8h-1.8v-2.6h1.8z" fill="#000"/>
<path d="M107.01,43.30V91.60 M107.01,96.80V145.10 M116.15,63.50V89.50 M116.15,94.70V120.70 M123.97,65.30V89.90 M123.97,95.10V119.70 M130.81,77.20V89.30 M130.81,94.50V106.60 M136.90,83.20V92.50 M136.90,97.70V107.00 M144.91,89.90V92.70 M144.91,97.90V100.70 M158.10,90.30V92.50 M158.10,97.70V99.90" stroke="#0020ff" stroke-width="1.9" fill="none"/>
<circle cx="107.01" cy="94.20" r="2.5" fill="#0020ff"/>
<circle cx="116.15" cy="92.10" r="2.5" fill="#0020ff"/>
<circle cx="123.97" cy="92.50" r="2.5" fill="#0020ff"/>
<circle cx="130.81" cy="91.90" r="2.5" fill="#0020ff"/>
<circle cx="136.90" cy="95.10" r="2.5" fill="#0020ff"/>
<circle cx="144.91" cy="95.30" r="2.5" fill="#0020ff"/>
<circle cx="158.10" cy="95.10" r="2.5" fill="#0020ff"/>
<circle cx="171.84" cy="96.20" r="2.5" fill="#0020ff"/>
<circle cx="184.04" cy="96.00" r="2.5" fill="#0020ff"/>
<circle cx="195.01" cy="96.00" r="2.5" fill="#0020ff"/>
<circle cx="204.15" cy="97.10" r="2.5" fill="#0020ff"/>
<circle cx="218.81" cy="97.10" r="2.5" fill="#0020ff"/>
<circle cx="296.20" cy="97.50" r="2.5" fill="#0020ff"/>
<circle cx="66.20" cy="77.60" r="2.95" fill="none" stroke="#00cc00" stroke-width="1.3"/>
<circle cx="84.60" cy="88.80" r="2.95" fill="none" stroke="#00cc00" stroke-width="1.3"/>
<circle cx="98.34" cy="88.10" r="2.95" fill="none" stroke="#00cc00" stroke-width="1.3"/>
<circle cx="109.31" cy="92.10" r="2.95" fill="none" stroke="#00cc00" stroke-width="1.3"/>
<circle cx="118.45" cy="92.40" r="2.95" fill="none" stroke="#00cc00" stroke-width="1.3"/>
<circle cx="126.27" cy="92.40" r="2.95" fill="none" stroke="#00cc00" stroke-width="1.3"/>
<circle cx="133.11" cy="89.70" r="2.95" fill="none" stroke="#00cc00" stroke-width="1.3"/>
<circle cx="139.20" cy="90.30" r="2.95" fill="none" stroke="#00cc00" stroke-width="1.3"/>
<circle cx="147.21" cy="91.00" r="2.95" fill="none" stroke="#00cc00" stroke-width="1.3"/>
<circle cx="160.40" cy="92.10" r="2.95" fill="none" stroke="#00cc00" stroke-width="1.3"/>
<circle cx="174.14" cy="92.60" r="2.95" fill="none" stroke="#00cc00" stroke-width="1.3"/>
<circle cx="186.34" cy="95.00" r="2.95" fill="none" stroke="#00cc00" stroke-width="1.3"/>
<circle cx="197.31" cy="95.60" r="2.95" fill="none" stroke="#00cc00" stroke-width="1.3"/>
<circle cx="206.45" cy="97.10" r="2.95" fill="none" stroke="#00cc00" stroke-width="1.3"/>
<circle cx="221.11" cy="97.10" r="2.95" fill="none" stroke="#00cc00" stroke-width="1.3"/>
<circle cx="298.50" cy="97.50" r="2.95" fill="none" stroke="#00cc00" stroke-width="1.3"/>
<path d="M54.00,97.75H327.80" stroke="#000" stroke-opacity="0.75" stroke-width="1.5" stroke-dasharray="3.6,4"/>
<path d="M54.00,190.30h8.3 M327.80,190.30h-8.3 M54.00,184.13h4.3 M327.80,184.13h-4.3 M54.00,177.96h4.3 M327.80,177.96h-4.3 M54.00,171.79h4.3 M327.80,171.79h-4.3 M54.00,165.62h4.3 M327.80,165.62h-4.3 M54.00,159.45h8.3 M327.80,159.45h-8.3 M54.00,153.28h4.3 M327.80,153.28h-4.3 M54.00,147.11h4.3 M327.80,147.11h-4.3 M54.00,140.94h4.3 M327.80,140.94h-4.3 M54.00,134.77h4.3 M327.80,134.77h-4.3 M54.00,128.60h8.3 M327.80,128.60h-8.3 M54.00,122.43h4.3 M327.80,122.43h-4.3 M54.00,116.26h4.3 M327.80,116.26h-4.3 M54.00,110.09h4.3 M327.80,110.09h-4.3 M54.00,103.92h4.3 M327.80,103.92h-4.3 M54.00,97.75h8.3 M327.80,97.75h-8.3 M54.00,91.58h4.3 M327.80,91.58h-4.3 M54.00,85.41h4.3 M327.80,85.41h-4.3 M54.00,79.24h4.3 M327.80,79.24h-4.3 M54.00,73.07h4.3 M327.80,73.07h-4.3 M54.00,66.90h8.3 M327.80,66.90h-8.3 M54.00,60.73h4.3 M327.80,60.73h-4.3 M54.00,54.56h4.3 M327.80,54.56h-4.3 M54.00,48.39h4.3 M327.80,48.39h-4.3 M54.00,42.22h4.3 M327.80,42.22h-4.3 M54.00,36.05h8.3 M327.80,36.05h-8.3 M54.00,29.88h4.3 M327.80,29.88h-4.3 M54.00,23.71h4.3 M327.80,23.71h-4.3 M54.00,17.54h4.3 M327.80,17.54h-4.3 M54.00,11.37h4.3 M327.80,11.37h-4.3 M54.00,5.20h8.3 M327.80,5.20h-8.3 M91.90,190.30v-2.6 M91.90,5.20v2.6 M114.07,190.30v-2.6 M114.07,5.20v2.6 M129.80,190.30v-2.6 M129.80,5.20v2.6 M142.00,190.30v-2.6 M142.00,5.20v2.6 M151.97,190.30v-2.6 M151.97,5.20v2.6 M160.40,190.30v-2.6 M160.40,5.20v2.6 M167.70,190.30v-2.6 M167.70,5.20v2.6 M174.14,190.30v-2.6 M174.14,5.20v2.6 M179.90,190.30v-5 M179.90,5.20v5 M217.80,190.30v-2.6 M217.80,5.20v2.6 M239.97,190.30v-2.6 M239.97,5.20v2.6 M255.70,190.30v-2.6 M255.70,5.20v2.6 M267.90,190.30v-2.6 M267.90,5.20v2.6 M277.87,190.30v-2.6 M277.87,5.20v2.6 M286.30,190.30v-2.6 M286.30,5.20v2.6 M293.60,190.30v-2.6 M293.60,5.20v2.6 M300.04,190.30v-2.6 M300.04,5.20v2.6 M305.80,190.30v-5 M305.80,5.20v5" stroke="#000" stroke-width="1.1" fill="none"/>
<rect x="54.0" y="5.2" width="273.80" height="185.10" stroke="#000" stroke-width="1.2" fill="none"/>
<text x="49.3" y="196.50" text-anchor="end" font-size="12.8">0.7</text>
<text x="49.3" y="165.65" text-anchor="end" font-size="12.8">0.8</text>
<text x="49.3" y="134.80" text-anchor="end" font-size="12.8">0.9</text>
<text x="49.3" y="103.95" text-anchor="end" font-size="12.8">1</text>
<text x="49.3" y="73.10" text-anchor="end" font-size="12.8">1.1</text>
<text x="49.3" y="42.25" text-anchor="end" font-size="12.8">1.2</text>
<text x="49.3" y="11.40" text-anchor="end" font-size="12.8">1.3</text>
<text x="88.8" y="205" text-anchor="middle" font-size="13.3">20</text>
<text x="112" y="205" text-anchor="middle" font-size="13.3">30</text>
<text x="175.7" y="205" text-anchor="middle" font-size="13.3">100</text>
<text x="214" y="205" text-anchor="middle" font-size="13.3">200</text>
<text x="301.3" y="205" text-anchor="middle" font-size="13.3">1000</text>
<text x="268.3" y="226.4" font-size="14.6">E<tspan font-size="10.2" dy="4.3">T</tspan><tspan dy="-4.3"> [GeV]</tspan></text>
<g transform="translate(13.6,160) rotate(-90)"><text x="4.6" y="0" font-size="14.8">ε</text><text x="10.4" y="-4.7" font-size="10">Data</text><text x="11.0" y="5.2" font-size="10">ID</text><text x="35.6" y="0" font-size="14.6">(tight)</text><text x="76.0" y="0" font-size="14.6">/</text><text x="85.2" y="0" font-size="14.8">ε</text><text x="92.4" y="-5.0" font-size="10">MC</text><text x="92.4" y="5.2" font-size="10">ID</text><text x="112.0" y="0" font-size="14.6">(tight)</text></g>
<text x="71.6" y="28.1" font-size="15" font-weight="bold" font-style="italic">ATLAS</text>
<path d="M138.9,17.6 L141.6,26.2" stroke="#000" stroke-width="1.9" fill="none"/>
<path d="M141.6,26.2 L143.7,12.5 L152.4,12.5" stroke="#000" stroke-width="1.1" fill="none"/>
<text x="145.3" y="25.4" font-size="15" textLength="167.6" lengthAdjust="spacing">s = 13 TeV, 36.1-36.7 fb</text>
<text x="312.2" y="19.3" font-size="10">-1</text>
<text x="206.4" y="48.3" font-size="15.2" textLength="67.6" lengthAdjust="spacing">converted</text>
<text x="279.2" y="48.6" font-size="17.5" style="font-family:'Liberation Serif',serif">γ</text>
<text x="206.6" y="66.0" font-size="15.2">1.52 ≤ |η| &lt; 1.81</text>
<path d="M181.6,130.0H194.9" stroke="#00cc00" stroke-width="2"/>
<text x="197.9" y="132.9" font-size="12.55">Combined</text>
<path d="M181.6,144.6H194.9" stroke="#ff0000" stroke-width="2"/>
<path d="M181.6,159.0H194.9" stroke="#000000" stroke-width="2"/>
<text x="197.9" y="162.0" font-size="12.55">Electron Extrapolation</text>
<path d="M181.6,174.0H194.9" stroke="#0020ff" stroke-width="2"/>
<text x="197.9" y="178.0" font-size="12.55">Inclusive photons</text>
<text x="197.9" y="147.3" font-size="12.55">Z</text>
<path d="M206.2,144.1H216.2" stroke="#000" stroke-width="1"/>
<path d="M213.6,141.3 L217.2,144.1 L213.6,146.9" stroke="#000" stroke-width="1" fill="none"/>
<text x="217.6" y="147.3" font-size="12.55">ll</text>
<text x="223.0" y="147.2" font-size="12.4" font-family="Liberation Serif" style="font-family:'Liberation Serif',serif">γ</text>
<circle cx="188.3" cy="130" r="3.15" fill="none" stroke="#00cc00" stroke-width="1.3"/>
<path d="M185.70000000000002,146.4 L188.3,142.2 L190.9,146.4Z" fill="#ff0000"/>
<path d="M188.3,154.8V163.4" stroke="#000" stroke-width="1.8"/>
<path d="M187.0,156.3h2.6v1.4h1.4v2.6h-1.4v1.4h-2.6v-1.4h-1.4v-2.6h1.4z" fill="#000"/>
<circle cx="188.3" cy="174" r="2.6" fill="#0020ff"/>
</g>
<g transform="translate(356.7,268.6)">
<path d="M61.60,80.40V104.90 M61.60,110.10V134.70 M80.00,70.60V97.40 M80.00,102.60V129.30 M93.74,78.50V104.00 M93.74,109.20V134.70 M104.71,97.10V100.10 M104.71,105.30V108.40 M113.85,92.40V94.80 M113.85,100.00V102.40 M121.67,95.60V99.40 M121.67,104.60V108.40 M128.51,98.50V105.70 M128.51,110.90V118.10 M134.60,79.50V92.60 M134.60,97.80V110.80 M142.61,78.80V90.00 M142.61,95.20V106.50 M155.80,88.50V104.70 M155.80,109.90V126.00 M169.54,67.20V124.40 M169.54,129.60V186.90" stroke="#ff0000" stroke-width="1.9" fill="none"/>
<path d="M59.00,109.75L61.60,105.25L64.20,109.75Z" fill="#ff0000"/>
<path d="M77.40,102.25L80.00,97.75L82.60,102.25Z" fill="#ff0000"/>
<path d="M91.14,108.85L93.74,104.35L96.34,108.85Z" fill="#ff0000"/>
<path d="M102.11,104.95L104.71,100.45L107.31,104.95Z" fill="#ff0000"/>
<path d="M111.25,99.65L113.85,95.15L116.45,99.65Z" fill="#ff0000"/>
<path d="M119.07,104.25L121.67,99.75L124.27,104.25Z" fill="#ff0000"/>
<path d="M125.91,110.55L128.51,106.05L131.11,110.55Z" fill="#ff0000"/>
<path d="M132.00,97.45L134.60,92.95L137.20,97.45Z" fill="#ff0000"/>
<path d="M140.01,94.85L142.61,90.35L145.21,94.85Z" fill="#ff0000"/>
<path d="M153.20,109.55L155.80,105.05L158.40,109.55Z" fill="#ff0000"/>
<path d="M166.94,129.25L169.54,124.75L172.14,129.25Z" fill="#ff0000"/>
<path d="M54.00,107.70H62.60 M69.80,107.70H76.17 M66.20,80.40V104.10 M66.20,111.30V134.70 M76.17,100.00H81.00 M88.20,100.00H91.90 M84.60,72.50V96.40 M84.60,103.60V127.30 M91.90,107.10H94.74 M101.94,107.10H104.10 M98.34,83.30V103.50 M98.34,110.70V130.00 M104.10,102.50H105.71 M112.91,102.50H114.07 M109.31,98.00V98.90 M109.31,106.10V107.00 M114.07,97.10H114.85 M122.05,97.10H122.50 M122.50,97.70H122.67 M142.00,97.80H143.61 M150.81,97.80H151.97 M151.97,96.10H156.80 M164.00,96.10H167.70 M167.70,96.80H170.54 M177.74,96.80H179.90 M179.90,96.70H182.74 M189.94,96.70H192.10 M192.10,97.50H193.71 M200.91,97.50H202.07 M202.07,97.70H202.85 M210.05,97.70H210.50 M210.50,97.70H217.51 M224.71,97.70H230.00 M230.00,97.70H294.90 M302.10,97.70H327.97" stroke="#00cc00" stroke-width="2" fill="none"/>
<path d="M111.61,92.40V98.50 M111.61,102.90V109.00 M120.75,92.40V95.80 M120.75,100.20V103.70 M128.57,91.80V94.30 M128.57,98.70V101.00 M135.41,94.00V95.30 M135.41,99.70V101.00 M141.50,93.00V93.80 M141.50,98.20V99.00" stroke="#000000" stroke-width="1.9" fill="none"/>
<path d="M110.31,97.60h2.6v1.8h1.8v2.6h-1.8v1.8h-2.6v-1.8h-1.8v-2.6h1.8z" fill="#000"/>
<path d="M119.45,94.90h2.6v1.8h1.8v2.6h-1.8v1.8h-2.6v-1.8h-1.8v-2.6h1.8z" fill="#000"/>
<path d="M127.27,93.40h2.6v1.8h1.8v2.6h-1.8v1.8h-2.6v-1.8h-1.8v-2.6h1.8z" fill="#000"/>
<path d="M134.11,94.40h2.6v1.8h1.8v2.6h-1.8v1.8h-2.6v-1.8h-1.8v-2.6h1.8z" fill="#000"/>
<path d="M140.20,92.90h2.6v1.8h1.8v2.6h-1.8v1.8h-2.6v-1.8h-1.8v-2.6h1.8z" fill="#000"/>
<path d="M148.21,93.90h2.6v1.8h1.8v2.6h-1.8v1.8h-2.6v-1.8h-1.8v-2.6h1.8z" fill="#000"/>
<path d="M161.40,93.40h2.6v1.8h1.8v2.6h-1.8v1.8h-2.6v-1.8h-1.8v-2.6h1.8z" fill="#000"/>
<path d="M175.14,93.90h2.6v1.8h1.8v2.6h-1.8v1.8h-2.6v-1.8h-1.8v-2.6h1.8z" fill="#000"/>
<path d="M187.34,93.60h2.6v1.8h1.8v2.6h-1.8v1.8h-2.6v-1.8h-1.8v-2.6h1.8z" fill="#000"/>
<path d="M198.31,94.40h2.6v1.8h1.8v2.6h-1.8v1.8h-2.6v-1.8h-1.8v-2.6h1.8z" fill="#000"/>
<path d="M107.01,75.40V96.50 M107.01,101.70V122.80 M116.15,86.40V92.40 M116.15,97.60V103.70 M123.97,90.60V93.00 M123.97,98.20V100.70 M130.81,92.90V94.20 M130.81,99.40V100.70 M136.90,87.60V89.80 M136.90,95.00V97.10" stroke="#0020ff" stroke-width="1.9" fill="none"/>
<circle cx="107.01" cy="99.10" r="2.5" fill="#0020ff"/>
<circle cx="116.15" cy="95.00" r="2.5" fill="#0020ff"/>
<circle cx="123.97" cy="95.60" r="2.5" fill="#0020ff"/>
<circle cx="130.81" cy="96.80" r="2.5" fill="#0020ff"/>
<circle cx="136.90" cy="92.40" r="2.5" fill="#0020ff"/>
<circle cx="144.91" cy="97.00" r="2.5" fill="#0020ff"/>
<circle cx="158.10" cy="96.50" r="2.5" fill="#0020ff"/>
<circle cx="171.84" cy="97.00" r="2.5" fill="#0020ff"/>
<circle cx="184.04" cy="96.70" r="2.5" fill="#0020ff"/>
<circle cx="195.01" cy="97.50" r="2.5" fill="#0020ff"/>
<circle cx="204.15" cy="97.70" r="2.5" fill="#0020ff"/>
<circle cx="218.81" cy="97.70" r="2.5" fill="#0020ff"/>
<circle cx="296.20" cy="97.70" r="2.5" fill="#0020ff"/>
<circle cx="66.20" cy="107.70" r="2.95" fill="none" stroke="#00cc00" stroke-width="1.3"/>
<circle cx="84.60" cy="100.00" r="2.95" fill="none" stroke="#00cc00" stroke-width="1.3"/>
<circle cx="98.34" cy="107.10" r="2.95" fill="none" stroke="#00cc00" stroke-width="1.3"/>
<circle cx="109.31" cy="102.50" r="2.95" fill="none" stroke="#00cc00" stroke-width="1.3"/>
<circle cx="118.45" cy="97.10" r="2.95" fill="none" stroke="#00cc00" stroke-width="1.3"/>
<circle cx="126.27" cy="97.70" r="2.95" fill="none" stroke="#00cc00" stroke-width="1.3"/>
<circle cx="133.11" cy="99.30" r="2.95" fill="none" stroke="#00cc00" stroke-width="1.3"/>
<circle cx="139.20" cy="94.70" r="2.95" fill="none" stroke="#00cc00" stroke-width="1.3"/>
<circle cx="147.21" cy="97.80" r="2.95" fill="none" stroke="#00cc00" stroke-width="1.3"/>
<circle cx="160.40" cy="96.10" r="2.95" fill="none" stroke="#00cc00" stroke-width="1.3"/>
<circle cx="174.14" cy="96.80" r="2.95" fill="none" stroke="#00cc00" stroke-width="1.3"/>
<circle cx="186.34" cy="96.70" r="2.95" fill="none" stroke="#00cc00" stroke-width="1.3"/>
<circle cx="197.31" cy="97.50" r="2.95" fill="none" stroke="#00cc00" stroke-width="1.3"/>
<circle cx="206.45" cy="97.70" r="2.95" fill="none" stroke="#00cc00" stroke-width="1.3"/>
<circle cx="221.11" cy="97.70" r="2.95" fill="none" stroke="#00cc00" stroke-width="1.3"/>
<circle cx="298.50" cy="97.70" r="2.95" fill="none" stroke="#00cc00" stroke-width="1.3"/>
<path d="M54.00,97.75H327.80" stroke="#000" stroke-opacity="0.75" stroke-width="1.5" stroke-dasharray="3.6,4"/>
<path d="M54.00,190.30h8.3 M327.80,190.30h-8.3 M54.00,184.13h4.3 M327.80,184.13h-4.3 M54.00,177.96h4.3 M327.80,177.96h-4.3 M54.00,171.79h4.3 M327.80,171.79h-4.3 M54.00,165.62h4.3 M327.80,165.62h-4.3 M54.00,159.45h8.3 M327.80,159.45h-8.3 M54.00,153.28h4.3 M327.80,153.28h-4.3 M54.00,147.11h4.3 M327.80,147.11h-4.3 M54.00,140.94h4.3 M327.80,140.94h-4.3 M54.00,134.77h4.3 M327.80,134.77h-4.3 M54.00,128.60h8.3 M327.80,128.60h-8.3 M54.00,122.43h4.3 M327.80,122.43h-4.3 M54.00,116.26h4.3 M327.80,116.26h-4.3 M54.00,110.09h4.3 M327.80,110.09h-4.3 M54.00,103.92h4.3 M327.80,103.92h-4.3 M54.00,97.75h8.3 M327.80,97.75h-8.3 M54.00,91.58h4.3 M327.80,91.58h-4.3 M54.00,85.41h4.3 M327.80,85.41h-4.3 M54.00,79.24h4.3 M327.80,79.24h-4.3 M54.00,73.07h4.3 M327.80,73.07h-4.3 M54.00,66.90h8.3 M327.80,66.90h-8.3 M54.00,60.73h4.3 M327.80,60.73h-4.3 M54.00,54.56h4.3 M327.80,54.56h-4.3 M54.00,48.39h4.3 M327.80,48.39h-4.3 M54.00,42.22h4.3 M327.80,42.22h-4.3 M54.00,36.05h8.3 M327.80,36.05h-8.3 M54.00,29.88h4.3 M327.80,29.88h-4.3 M54.00,23.71h4.3 M327.80,23.71h-4.3 M54.00,17.54h4.3 M327.80,17.54h-4.3 M54.00,11.37h4.3 M327.80,11.37h-4.3 M54.00,5.20h8.3 M327.80,5.20h-8.3 M91.90,190.30v-2.6 M91.90,5.20v2.6 M114.07,190.30v-2.6 M114.07,5.20v2.6 M129.80,190.30v-2.6 M129.80,5.20v2.6 M142.00,190.30v-2.6 M142.00,5.20v2.6 M151.97,190.30v-2.6 M151.97,5.20v2.6 M160.40,190.30v-2.6 M160.40,5.20v2.6 M167.70,190.30v-2.6 M167.70,5.20v2.6 M174.14,190.30v-2.6 M174.14,5.20v2.6 M179.90,190.30v-5 M179.90,5.20v5 M217.80,190.30v-2.6 M217.80,5.20v2.6 M239.97,190.30v-2.6 M239.97,5.20v2.6 M255.70,190.30v-2.6 M255.70,5.20v2.6 M267.90,190.30v-2.6 M267.90,5.20v2.6 M277.87,190.30v-2.6 M277.87,5.20v2.6 M286.30,190.30v-2.6 M286.30,5.20v2.6 M293.60,190.30v-2.6 M293.60,5.20v2.6 M300.04,190.30v-2.6 M300.04,5.20v2.6 M305.80,190.30v-5 M305.80,5.20v5" stroke="#000" stroke-width="1.1" fill="none"/>
<rect x="54.0" y="5.2" width="273.80" height="185.10" stroke="#000" stroke-width="1.2" fill="none"/>
<text x="49.3" y="196.50" text-anchor="end" font-size="12.8">0.7</text>
<text x="49.3" y="165.65" text-anchor="end" font-size="12.8">0.8</text>
<text x="49.3" y="134.80" text-anchor="end" font-size="12.8">0.9</text>
<text x="49.3" y="103.95" text-anchor="end" font-size="12.8">1</text>
<text x="49.3" y="73.10" text-anchor="end" font-size="12.8">1.1</text>
<text x="49.3" y="42.25" text-anchor="end" font-size="12.8">1.2</text>
<text x="49.3" y="11.40" text-anchor="end" font-size="12.8">1.3</text>
<text x="88.8" y="205" text-anchor="middle" font-size="13.3">20</text>
<text x="112" y="205" text-anchor="middle" font-size="13.3">30</text>
<text x="175.7" y="205" text-anchor="middle" font-size="13.3">100</text>
<text x="214" y="205" text-anchor="middle" font-size="13.3">200</text>
<text x="301.3" y="205" text-anchor="middle" font-size="13.3">1000</text>
<text x="268.3" y="226.4" font-size="14.6">E<tspan font-size="10.2" dy="4.3">T</tspan><tspan dy="-4.3"> [GeV]</tspan></text>
<g transform="translate(13.6,160) rotate(-90)"><text x="4.6" y="0" font-size="14.8">ε</text><text x="10.4" y="-4.7" font-size="10">Data</text><text x="11.0" y="5.2" font-size="10">ID</text><text x="35.6" y="0" font-size="14.6">(tight)</text><text x="76.0" y="0" font-size="14.6">/</text><text x="85.2" y="0" font-size="14.8">ε</text><text x="92.4" y="-5.0" font-size="10">MC</text><text x="92.4" y="5.2" font-size="10">ID</text><text x="112.0" y="0" font-size="14.6">(tight)</text></g>
<text x="67.0" y="27.3" font-size="15" font-weight="bold" font-style="italic">ATLAS</text>
<path d="M138.9,17.6 L141.6,26.2" stroke="#000" stroke-width="1.9" fill="none"/>
<path d="M141.6,26.2 L143.7,12.5 L152.4,12.5" stroke="#000" stroke-width="1.1" fill="none"/>
<text x="145.3" y="25.4" font-size="15" textLength="167.6" lengthAdjust="spacing">s = 13 TeV, 36.1-36.7 fb</text>
<text x="312.2" y="19.3" font-size="10">-1</text>
<text x="206.4" y="48.3" font-size="15.2" textLength="67.6" lengthAdjust="spacing">converted</text>
<text x="279.2" y="48.6" font-size="17.5" style="font-family:'Liberation Serif',serif">γ</text>
<text x="206.6" y="66.0" font-size="15.2">1.81 ≤ |η| &lt; 2.37</text>
<path d="M181.6,130.0H194.9" stroke="#00cc00" stroke-width="2"/>
<text x="197.9" y="132.9" font-size="12.55">Combined</text>
<path d="M181.6,144.6H194.9" stroke="#ff0000" stroke-width="2"/>
<path d="M181.6,159.0H194.9" stroke="#000000" stroke-width="2"/>
<text x="197.9" y="162.0" font-size="12.55">Electron Extrapolation</text>
<path d="M181.6,174.0H194.9" stroke="#0020ff" stroke-width="2"/>
<text x="197.9" y="178.0" font-size="12.55">Inclusive photons</text>
<text x="197.9" y="147.3" font-size="12.55">Z</text>
<path d="M206.2,144.1H216.2" stroke="#000" stroke-width="1"/>
<path d="M213.6,141.3 L217.2,144.1 L213.6,146.9" stroke="#000" stroke-width="1" fill="none"/>
<text x="217.6" y="147.3" font-size="12.55">ll</text>
<text x="223.0" y="147.2" font-size="12.4" font-family="Liberation Serif" style="font-family:'Liberation Serif',serif">γ</text>
<circle cx="188.3" cy="130" r="3.15" fill="none" stroke="#00cc00" stroke-width="1.3"/>
<path d="M185.70000000000002,146.4 L188.3,142.2 L190.9,146.4Z" fill="#ff0000"/>
<path d="M188.3,154.8V163.4" stroke="#000" stroke-width="1.8"/>
<path d="M187.0,156.3h2.6v1.4h1.4v2.6h-1.4v1.4h-2.6v-1.4h-1.4v-2.6h1.4z" fill="#000"/>
<circle cx="188.3" cy="174" r="2.6" fill="#0020ff"/>
</g>
</svg></body></html>
